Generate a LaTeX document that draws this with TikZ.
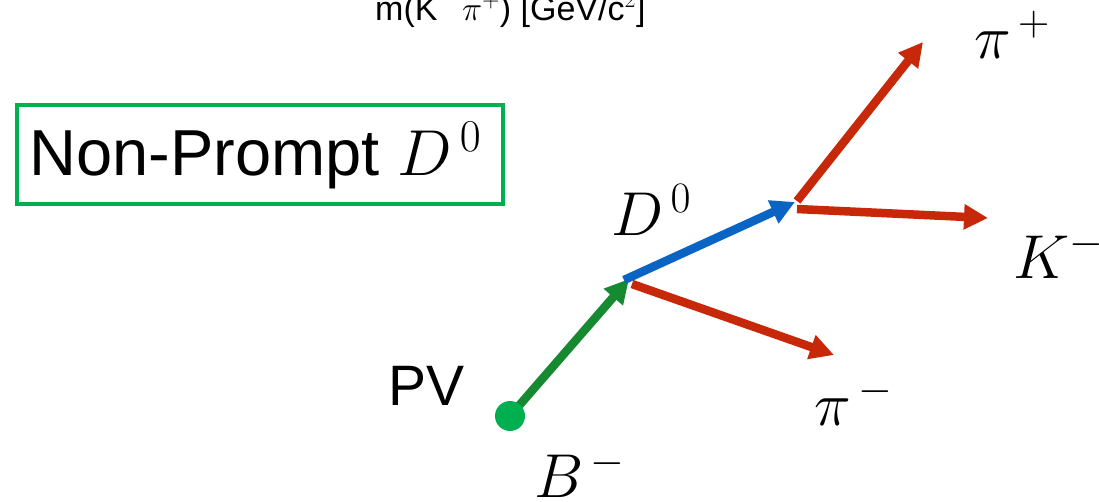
\RequirePackage{fix-cm}
\documentclass[tikz,border=0pt]{standalone}
\usepackage{fontspec}
\setmainfont{Liberation Sans}
\usetikzlibrary{arrows.meta}
\definecolor{boxgreen}{RGB}{0,176,80}
\definecolor{arrgreen}{RGB}{22,138,48}
\definecolor{arrblue}{RGB}{10,100,196}
\definecolor{arrred}{RGB}{200,40,10}
\tikzset{
  arr/.style={line width=8.5pt,-{Triangle[length=24pt,width=24pt]}},
  lab/.style={inner sep=0pt,anchor=base west,font=\fontsize{62}{68}\selectfont},
}
\begin{document}
\begin{tikzpicture}[x=1pt,y=-1pt]
\useasboundingbox (0,0) rectangle (1099,501);
\clip (0,0) rectangle (1099,501);
% axis caption cut at top
\node[inner sep=0pt,anchor=base west,font=\fontsize{34}{38}\selectfont] (axis) at (375,20) {m(K$^{\raise6pt\hbox{$\scriptstyle-$}}\,\pi^+$) [GeV/c$^2$]};
% title box
\node[draw=boxgreen,line width=3.5pt,inner sep=0pt,minimum width=486pt,minimum height=99pt,anchor=north west] (box) at (15,103) {};
\node[inner sep=0pt,anchor=base west,font=\fontsize{65}{72}\selectfont] (title) at (29,175) {Non-Prompt $D^{\,0}$};
% vertices
\coordinate (pvc) at (510,416);
\coordinate (dv) at (624,280);
\coordinate (dvtip) at (629,279);
\coordinate (dv2) at (797,201);
\coordinate (pip) at (923,42);
\coordinate (km) at (988,218);
\coordinate (pim) at (834,355);
% arrows
\draw[arr,arrgreen] (pvc) -- (dvtip);
\draw[arr,arrblue] (dv) -- (795,202) coordinate (dvend);
\draw[arr,arrred] (632,284) -- (pim);
\draw[arr,arrred] (dv2) -- (pip);
\draw[arr,arrred] (797,209) -- (km);
\node[circle,fill=boxgreen,minimum size=30pt,inner sep=0pt] (pv) at (pvc) {};
% labels
\node[lab] (lD) at (611,235) {$D^{\,0}$};
\node[lab] (lpip) at (974,58) {$\pi^{\,+}$};
\node[lab] (lK) at (1013,278) {$K^{-}$};
\node[lab] (lpim) at (814,425) {$\pi^{\,-}$};
\node[lab] (lB) at (534,497) {$B^{\,-}$};
\node[inner sep=0pt,anchor=base west,font=\fontsize{57}{63}\selectfont] (lPV) at (388,405) {PV};
\end{tikzpicture}
\end{document}
